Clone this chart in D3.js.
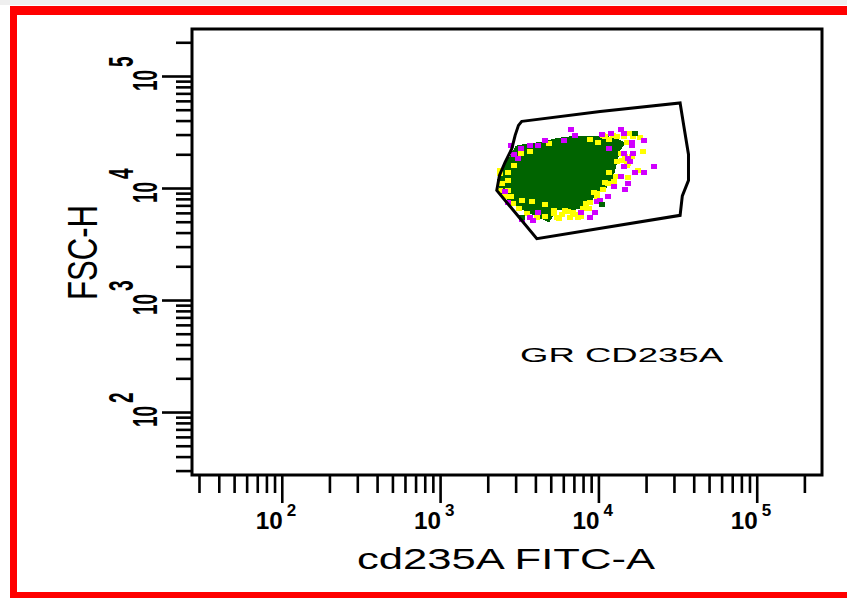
<!DOCTYPE html>
<html>
<head>
<meta charset="utf-8">
<script src="https://cdn.jsdelivr.net/npm/d3@7"></script>
<style>
  html, body { margin: 0; padding: 0; background: #fff; }
  svg { display: block; }
  text { font-family: 'Liberation Sans', Arial, sans-serif; fill: #000; }
</style>
</head>
<body>
<div id="chart"></div>
<script>
// axis ranges, both log scaled
const xDomain = [27.1, 258400];   // cd235A FITC-A
const yDomain = [27.4, 262800];   // FSC-H
const xMajorTicks = [1e2, 1e3, 1e4, 1e5];
const yMajorTicks = [1e2, 1e3, 1e4, 1e5];
const xTitle = 'cd235A FITC-A';
const yTitle = 'FSC-H';
const gateName = 'GR CD235A';

// everything below is [log10 FITC-A, log10 FSC-H]
const gate = [
  [3.516, 4.595], [4.011, 4.684], [4.516, 4.759], [4.540, 4.550], [4.569, 4.300],
  [4.569, 4.068], [4.530, 3.930], [4.516, 3.756], [3.611, 3.548], [3.358, 3.979],
  [3.375, 4.113], [3.411, 4.232], [3.453, 4.351], [3.474, 4.470], [3.495, 4.559]
];

// dense core of the population (dark green area)
const denseCore = [
  [3.642, 4.396], [3.737, 4.432], [3.864, 4.455], [3.948, 4.449], [4.032, 4.455],
  [4.116, 4.432], [4.158, 4.396], [4.127, 4.336], [4.106, 4.217], [4.085, 4.098],
  [4.042, 4.009], [3.969, 3.935], [3.927, 3.845], [3.842, 3.816], [3.737, 3.816],
  [3.685, 3.711], [3.611, 3.756], [3.506, 3.830], [3.442, 3.890], [3.390, 3.964],
  [3.369, 4.068], [3.400, 4.173], [3.442, 4.262], [3.485, 4.366], [3.569, 4.390]
];

const yellowEvents = [
  [4.03, 4.47], [4.07, 4.43], [4.12, 4.46], [4.20, 4.49], [4.26, 4.45], [3.95, 4.43],
  [4.00, 4.41], [4.14, 4.31], [4.17, 4.28], [4.21, 4.28], [4.12, 4.24], [4.19, 4.22],
  [4.25, 4.16], [4.07, 4.14], [4.11, 4.10], [4.19, 4.09], [4.10, 4.06], [4.04, 4.05],
  [4.03, 3.99], [3.97, 3.96], [3.99, 3.92], [3.95, 3.87], [3.94, 3.82], [3.81, 3.79],
  [3.85, 3.76], [3.82, 3.74], [3.74, 3.74], [3.72, 3.80], [3.66, 3.85], [3.58, 3.88],
  [3.52, 3.89], [3.50, 3.82], [3.45, 3.92], [3.41, 3.92], [3.43, 3.98], [3.38, 4.16],
  [3.43, 4.14], [3.43, 4.07], [3.51, 4.31], [3.57, 4.33], [3.47, 4.20], [3.69, 4.40],
  [3.61, 3.74], [3.55, 3.77], [3.66, 3.75], [3.90, 3.82], [4.28, 4.33], [3.87, 3.74],
  [3.77, 3.76], [3.46, 3.86], [3.38, 3.98],
  [3.79, 3.80], [3.84, 3.78], [3.89, 3.75], [3.72, 3.77], [3.75, 3.73], [3.38, 4.13],
  [3.39, 4.04], [3.41, 3.95], [4.04, 4.46], [4.09, 4.47], [4.16, 4.46], [4.22, 4.46],
  [4.18, 4.41], [4.15, 4.25], [4.18, 4.20], [4.06, 4.04], [3.99, 3.95], [3.92, 3.86]
];

const magentaEvents = [
  [3.83, 4.52], [3.85, 4.47], [4.02, 4.48], [4.08, 4.49], [4.14, 4.52], [4.16, 4.49],
  [4.29, 4.42], [4.21, 4.38], [4.07, 4.35], [4.16, 4.31], [4.22, 4.31], [4.19, 4.26],
  [4.20, 4.24], [4.16, 4.19], [4.35, 4.19], [4.29, 4.14], [4.14, 4.10], [4.19, 4.04],
  [4.10, 4.01], [4.17, 3.99], [4.06, 3.92], [4.01, 3.89], [3.99, 3.88], [3.98, 3.78],
  [3.95, 3.74], [3.89, 3.78], [3.62, 3.78], [3.57, 3.74], [3.59, 3.71], [3.52, 3.72],
  [3.43, 3.87], [3.41, 3.97], [3.49, 4.26], [3.47, 4.30], [3.51, 4.35], [3.45, 4.38],
  [3.57, 4.38], [3.62, 4.38], [3.66, 4.42], [3.78, 4.42], [4.23, 4.14], [4.21, 4.41]
];

const greenEvents = [[4.23, 4.49], [4.02, 3.85], [3.52, 3.74]];

const W = 847, H = 599;
const plot = { left: 192, right: 822, top: 29, bottom: 475 };

const svg = d3.select('#chart').append('svg')
  .attr('width', W).attr('height', H);

// page chrome: light strip + red border
svg.append('rect').attr('x', 0).attr('y', 0).attr('width', W).attr('height', 5).attr('fill', '#efefef');
svg.append('path')
  .attr('d', 'M10,6H870V598H10Z M17,15V592H863V15Z')
  .attr('fill', '#ff0000')
  .attr('fill-rule', 'evenodd');

const x = d3.scaleLog().domain(xDomain).range([plot.left, plot.right]);
const y = d3.scaleLog().domain(yDomain).range([plot.bottom, plot.top]);
const ev = d => [x(10 ** d[0]), y(10 ** d[1])];

const isMajor = v => Math.abs(Math.log10(v) - Math.round(Math.log10(v))) < 1e-6;

// ticks
function styleAxis(g) {
  g.select('.domain').remove();
  g.selectAll('.tick line').attr('stroke', '#000').attr('stroke-width', 2.6);
}
svg.append('g').attr('transform', `translate(0,${plot.bottom})`)
  .call(d3.axisBottom(x).tickValues(x.ticks().filter(v => !isMajor(v))).tickSize(18).tickFormat(''))
  .call(styleAxis);
svg.append('g').attr('transform', `translate(0,${plot.bottom})`)
  .call(d3.axisBottom(x).tickValues(xMajorTicks).tickSize(28).tickFormat(''))
  .call(styleAxis);
svg.append('g').attr('transform', `translate(${plot.left},0)`)
  .call(d3.axisLeft(y).tickValues(y.ticks().filter(v => !isMajor(v))).tickSize(16).tickFormat(''))
  .call(styleAxis);
svg.append('g').attr('transform', `translate(${plot.left},0)`)
  .call(d3.axisLeft(y).tickValues(yMajorTicks).tickSize(30).tickFormat(''))
  .call(styleAxis);

// plot frame
svg.append('rect')
  .attr('x', plot.left).attr('y', plot.top)
  .attr('width', plot.right - plot.left).attr('height', plot.bottom - plot.top)
  .attr('fill', 'none').attr('stroke', '#000').attr('stroke-width', 3);

// x tick labels 10^n
const xl = svg.append('g');
xMajorTicks.forEach(t => {
  xl.append('text').attr('x', x(t) - 26).attr('y', 528.5)
    .attr('font-size', 23).attr('font-weight', 'bold')
    .attr('textLength', 27).attr('lengthAdjust', 'spacingAndGlyphs').text('10');
  xl.append('text').attr('x', x(t) + 5).attr('y', 515.5)
    .attr('font-size', 17).attr('font-weight', 'bold').text(Math.round(Math.log10(t)));
});

// y tick labels, rotated and stretched like the original bitmap
yMajorTicks.forEach(t => {
  const g = svg.append('g').attr('transform', `translate(157,${y(t)}) scale(1.85,1) rotate(-90)`);
  g.append('text').attr('x', -15).attr('y', 0)
    .attr('font-size', 19).attr('font-weight', 'bold').text('10');
  g.append('text').attr('x', 9).attr('y', -13)
    .attr('font-size', 19).attr('font-weight', 'bold').text(Math.round(Math.log10(t)));
});

// axis titles
svg.append('text').attr('x', 357).attr('y', 569)
  .attr('font-size', 29).attr('textLength', 298).attr('lengthAdjust', 'spacingAndGlyphs')
  .text(xTitle);
svg.append('text').attr('transform', 'translate(96.7,300) rotate(-90)')
  .attr('font-size', 42).attr('textLength', 95).attr('lengthAdjust', 'spacingAndGlyphs')
  .text(yTitle);

// events
const dots = svg.append('g').attr('shape-rendering', 'crispEdges');
dots.append('path')
  .attr('d', d3.line()(denseCore.map(ev)) + 'Z')
  .attr('fill', '#006400').attr('stroke', '#006400').attr('stroke-width', 3);

function cells(data, color) {
  dots.selectAll(null).data(data).enter().append('rect')
    .attr('x', d => ev(d)[0] - 3).attr('y', d => ev(d)[1] - 2.5)
    .attr('width', 6).attr('height', 5)
    .attr('fill', color);
}
cells(yellowEvents, '#ffff00');
cells(magentaEvents, '#d000ff');
cells(greenEvents, '#006400');

// gate
svg.append('path')
  .attr('d', d3.line()(gate.map(ev)) + 'Z')
  .attr('fill', 'none').attr('stroke', '#000').attr('stroke-width', 3)
  .attr('stroke-linejoin', 'miter');

svg.append('text').attr('x', 520).attr('y', 362.3)
  .attr('font-size', 20.5).attr('textLength', 203).attr('lengthAdjust', 'spacingAndGlyphs')
  .text(gateName);
</script>
</body>
</html>
